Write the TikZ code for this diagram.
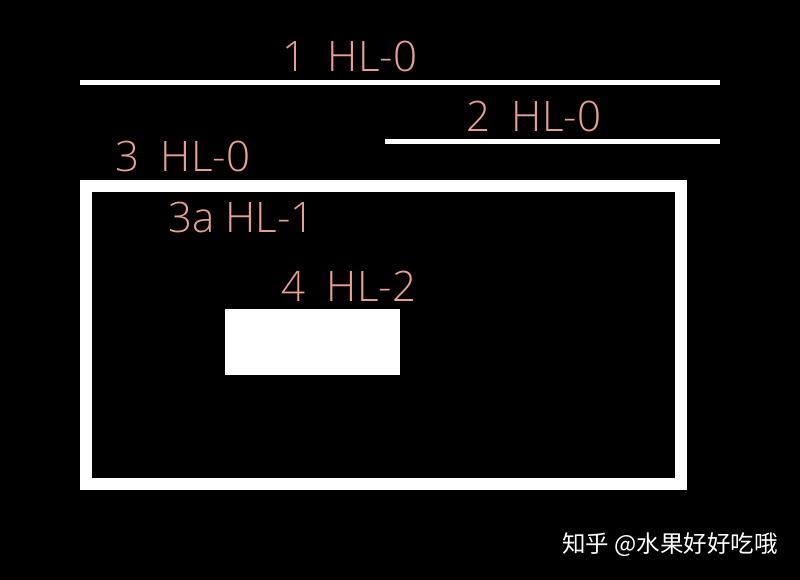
\documentclass[tikz,border=0pt]{standalone}
\usepackage{fontspec}
\newfontfamily\lbl{Open Sans Light}
\newfontfamily\cjk{Noto Sans CJK SC}
\definecolor{salmon}{RGB}{230,160,148}
\begin{document}
\begin{tikzpicture}[x=1pt,y=-1pt,
  lab/.style={text=salmon,font=\lbl\fontsize{42}{42}\selectfont,anchor=base west,inner sep=0pt},
  wline/.style={draw=white,line width=5pt}]
\useasboundingbox[fill=black] (0,0) rectangle (800,580);
\coordinate (l1a) at (80,83);
\coordinate (l1b) at (720,83);
\coordinate (l2a) at (385,142);
\coordinate (l2b) at (720,142);
\draw[wline] (l1a) -- (l1b);
\draw[wline] (l2a) -- (l2b);
\draw[draw=white,line width=12pt] (86,186) rectangle (681,484);
\fill[white] (225,309) rectangle (400,375);
\node[lab] (t1) at (282,72) {1\ \ HL-0};
\node[lab] (t2) at (466,132) {2\ \ HL-0};
\node[lab] (t3) at (115,172) {3\ \ HL-0};
\node[lab] (t3a) at (168,232) {3a HL-1};
\node[lab] (t4) at (281,301) {4\ \ HL-2};
\node[text=white,font=\cjk\fontsize{23.5}{23.5}\selectfont,anchor=west,inner sep=0pt] (wm) at (562,545) {知乎 @水果好好吃哦};
\end{tikzpicture}
\end{document}
